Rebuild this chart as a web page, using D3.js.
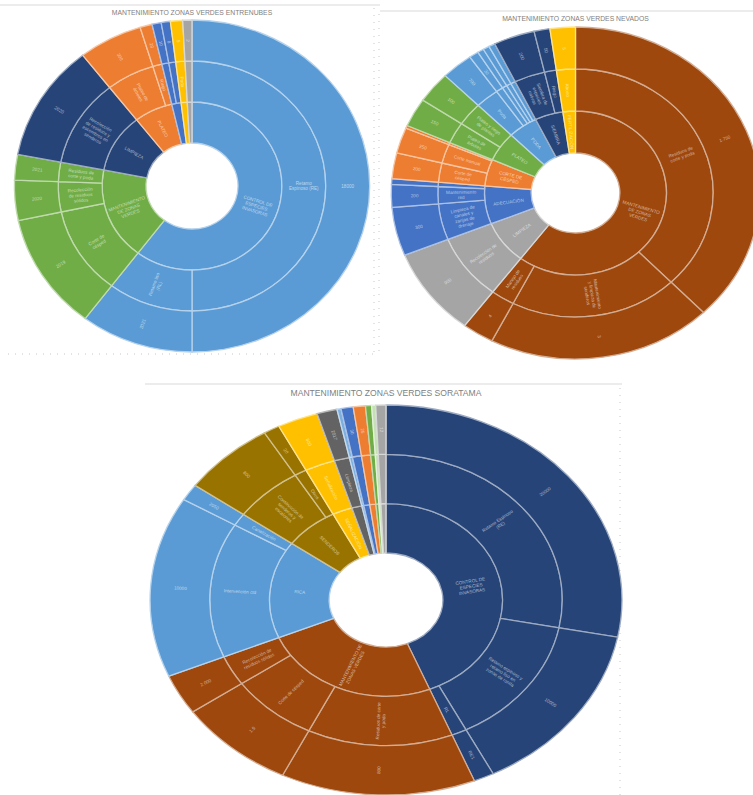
<!DOCTYPE html>
<html><head><meta charset="utf-8">
<script src="https://cdn.jsdelivr.net/npm/d3@7/dist/d3.min.js"></script>
<style>body{margin:0;background:#fff}svg{display:block}</style>
</head><body>
<svg id="c" width="753" height="795"></svg>
<script>
// ---------- DATA (nivel 1, nivel 2, nivel 3, valor) ----------
const entrenubesTitle = "MANTENIMIENTO ZONAS VERDES ENTRENUBES";
const entrenubesRows = [
  ["CONTROL DE ESPECIES INVASORAS", "Retamo Espinoso (RE)", "18000", 180],
  ["CONTROL DE ESPECIES INVASORAS", "Retamo liso (RL)", "2021", 37],
  ["MANTENIMIENTO DE ZONAS VERDES", "Corte de césped", "2019", 41],
  ["MANTENIMIENTO DE ZONAS VERDES", "Recolección de residuos sólidos", "2020", 14],
  ["MANTENIMIENTO DE ZONAS VERDES", "Residuos de corte y poda", "2021", 9],
  ["LIMPIEZA", "Recolección de residuos y escombros en senderos", "2020", 41],
  ["PLATEO", "Plateo de árboles", "300", 21],
  ["PLATEO", "Riego", "20", 4],
  ["SIEMBRA", "Siembra", "10", 3],
  ["SIEMBRA", "Abono", "8", 3],
  ["PODA", "Poda", "5", 4],
  ["SEÑALIZACIÓN", "Avisos", "2", 3]
];
const entrenubesColors = ["#5B9BD5", "#70AD47", "#264478", "#ED7D31", "#4472C4", "#FFC000", "#A5A5A5"];

const nevadosTitle = "MANTENIMIENTO ZONAS VERDES NEVADOS";
const nevadosRows = [
  ["MANTENIMIENTO DE ZONAS VERDES", "Residuos de corte y poda", "1.750", 136],
  ["MANTENIMIENTO DE ZONAS VERDES", "Mantenimiento y limpieza de senderos", "3", 71],
  ["MANTENIMIENTO DE ZONAS VERDES", "Manejo de residuos", "4", 10],
  ["LIMPIEZA", "Recolección de residuos", "900", 31],
  ["ADECUACIÓN", "Limpieza de canales y zanjas de drenaje", "300", 17],
  ["ADECUACIÓN", "Mantenimiento red", "200", 8],
  ["ADECUACIÓN", "Otros", "10", 2],
  ["CORTE DE CÉSPED", "Corte de césped", "200", 9],
  ["CORTE DE CÉSPED", "Corte manual", "250", 9],
  ["CORTE DE CÉSPED", "Otros", "5", 1],
  ["PLATEO", "Plateo de árboles", "150", 10],
  ["PLATEO", "Plateo y riego de plantas", "100", 11],
  ["PODA", "Poda", "700", 10],
  ["PODA", "Poda de árboles", "30", 3],
  ["PODA", "Poda de setos", "20", 2],
  ["PODA", "Tala", "10", 2],
  ["PODA", "Despeje", "5", 2],
  ["SIEMBRA", "Siembra de especies nativas", "200", 13],
  ["SIEMBRA", "Riego", "50", 5],
  ["FERTILIZACIÓN", "Abono", "5", 8]
];
const nevadosColors = ["#9E480E", "#A5A5A5", "#4472C4", "#ED7D31", "#70AD47", "#5B9BD5", "#264478", "#FFC000"];

const soratamaTitle = "MANTENIMIENTO ZONAS VERDES SORATAMA";
const soratamaRows = [
  ["CONTROL DE ESPECIES INVASORAS", "Retamo Espinoso (RE)", "20000", 101],
  ["CONTROL DE ESPECIES INVASORAS", "Retamo espinoso y retamo liso en zonas de ronda", "10000", 52],
  ["CONTROL DE ESPECIES INVASORAS", "RL", "RE1", 5],
  ["MANTENIMIENTO DE ZONAS VERDES", "Residuos de corte y poda", "800", 48],
  ["MANTENIMIENTO DE ZONAS VERDES", "Corte de césped", "1.5", 29],
  ["MANTENIMIENTO DE ZONAS VERDES", "Recolección de residuos sólidos", "2.000", 12],
  ["RICA", "Intervención ctd", "10000", 54],
  ["RICA", "Canalización", "2050", 5],
  ["SENDEROS", "Construcción de senderos y escalones", "800", 23],
  ["SENDEROS", "Otros", "20", 4],
  ["SEÑALIZACIÓN", "Señalización", "800", 10],
  ["LIMPIEZA", "Limpieza", "2017", 5],
  ["PODA", "Poda", "10", 1],
  ["PLATEO", "Plateo", "30", 3],
  ["SIEMBRA", "Siembra", "25", 3],
  ["RIEGO", "Riego", "8", 1.5],
  ["ABONO", "Abono", "5", 1],
  ["OTROS", "Otros", "12", 2.5]
];
const soratamaColors = ["#264478", "#9E480E", "#5B9BD5", "#997300", "#FFC000", "#636363", "#7CAFDD", "#4472C4", "#ED7D31", "#70AD47", "#C5E0B4", "#A5A5A5"];

// ---------- DRAWING ----------
const svg = d3.select("#c");

function frame(lines) {
  lines.forEach(l => {
    svg.append("line").attr("x1", l[0]).attr("y1", l[1]).attr("x2", l[2]).attr("y2", l[3])
      .attr("stroke", l[4] ? "#c8c8c8" : "#d9d9d9").attr("stroke-width", 1)
      .attr("stroke-dasharray", l[4] ? "1,6" : null);
  });
}

function wrap(text, maxChars) {
  const words = text.split(/\s+/);
  const lines = [];
  let cur = "";
  words.forEach(w => {
    if (!cur) cur = w;
    else if ((cur + " " + w).length <= maxChars) cur += " " + w;
    else { lines.push(cur); cur = w; }
  });
  if (cur) lines.push(cur);
  return lines;
}

function sunburst(opts) {
  const {rows, colors, title, cx, cy, r0, r1, sx, titleY, titleSize, clip} = opts;
  const grouped = d3.group(rows, d => d[0], d => d[1], d => d[2]);
  const root = d3.hierarchy([null, grouped], ([, v]) => v instanceof Map ? Array.from(v) : null)
    .sum(([, v]) => Array.isArray(v) ? d3.sum(v, r => r[3]) : 0);
  d3.partition().size([2 * Math.PI, 4])(root);
  const rScale = d3.scaleLinear().domain([1, 4]).range([r0, r1]);
  const topIndex = new Map(root.children.map((c, i) => [c.data[0], i]));
  const colorOf = d => {
    let n = d; while (n.depth > 1) n = n.parent;
    return colors[topIndex.get(n.data[0]) % colors.length];
  };
  const arc = d3.arc()
    .startAngle(d => d.x0).endAngle(d => d.x1)
    .innerRadius(d => rScale(d.y0)).outerRadius(d => rScale(d.y1));

  const outer = svg.append("g");
  if (clip) {
    const id = "clip" + Math.round(cx);
    svg.append("clipPath").attr("id", id).append("rect")
      .attr("x", clip[0]).attr("y", clip[1]).attr("width", clip[2]).attr("height", clip[3]);
    outer.attr("clip-path", `url(#${id})`);
  }
  const g = outer.append("g").attr("transform", `translate(${cx},${cy}) scale(${sx},1)`);
  const nodes = root.descendants().filter(d => d.depth > 0);
  g.selectAll("path").data(nodes).join("path")
    .attr("d", arc)
    .attr("fill", d => colorOf(d))
    .attr("stroke", d => d3.interpolateRgb(colorOf(d), "#ffffff")(0.55))
    .attr("stroke-width", 1.3)
    .attr("vector-effect", "non-scaling-stroke");

  const fs = 4.6;
  const tg = outer.append("g");
  nodes.forEach(d => {
    const a = (d.x0 + d.x1) / 2;
    const rm = (rScale(d.y0) + rScale(d.y1)) / 2;
    const ringW = rScale(d.y1) - rScale(d.y0);
    const arcLen = (d.x1 - d.x0) * rm;
    const maxChars = Math.floor((ringW - 6) / (fs * 0.55));
    let lines = wrap(d.data[0], maxChars);
    const maxLines = Math.floor((arcLen - 2) / (fs * 1.15));
    if (maxLines < 1) return;
    lines = lines.slice(0, Math.min(maxLines, 4));
    const dx = sx * Math.sin(a), dy = -Math.cos(a);
    let rot = Math.atan2(dy, dx) * 180 / Math.PI;
    if (dx < -1e-6) rot += 180;
    const x = cx + sx * rm * Math.sin(a), y = cy - rm * Math.cos(a);
    const t = tg.append("text")
      .attr("transform", `translate(${x},${y}) rotate(${rot})`)
      .attr("text-anchor", "middle")
      .attr("font-family", "Liberation Sans, Arial, sans-serif")
      .attr("font-size", fs)
      .attr("fill", d3.interpolateRgb(colorOf(d), "#ffffff")(0.6));
    lines.forEach((ln, i) => {
      t.append("tspan").attr("x", 0)
        .attr("dy", i === 0 ? (-(lines.length - 1) / 2 * fs * 1.15 + fs * 0.35) : fs * 1.15)
        .text(ln);
    });
  });

  svg.append("text").attr("x", cx).attr("y", titleY)
    .attr("text-anchor", "middle")
    .attr("font-family", "Liberation Sans, Arial, sans-serif")
    .attr("font-size", titleSize).attr("fill", "#808080")
    .text(title);
}

// frames
frame([
  [0, 5, 380, 5, false],
  [374, 8, 374, 354, true],
  [8, 354, 374, 354, true],
  [380, 11, 753, 11, false],
  [379, 14, 379, 352, true],
  [145, 384, 622, 384, false],
  [620, 388, 620, 795, true]
]);

sunburst({rows: entrenubesRows, colors: entrenubesColors, title: entrenubesTitle,
  cx: 192, cy: 186, r0: 43, r1: 166, sx: 1.07, titleY: 15, titleSize: 6.8});
sunburst({rows: nevadosRows, colors: nevadosColors, title: nevadosTitle,
  cx: 575.5, cy: 193, r0: 40, r1: 166, sx: 1.11, titleY: 21, titleSize: 6.8, clip: [380, 12, 373, 350]});
sunburst({rows: soratamaRows, colors: soratamaColors, title: soratamaTitle,
  cx: 386, cy: 600, r0: 47, r1: 195, sx: 1.21, titleY: 396, titleSize: 8.6});
</script>
</body></html>
